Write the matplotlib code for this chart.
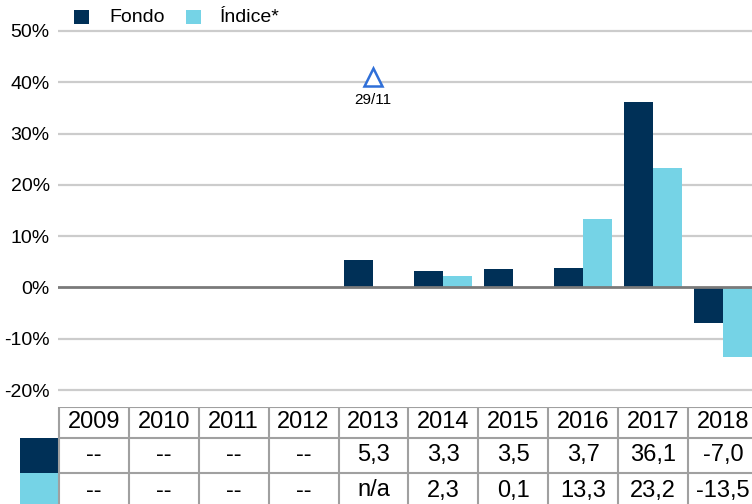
import numpy as np
import matplotlib
matplotlib.use("Agg")
import matplotlib.pyplot as plt
from matplotlib.patches import Rectangle

plt.rcParams['font.family'] = ['Liberation Sans', 'DejaVu Sans']

years = ["2009", "2010", "2011", "2012", "2013", "2014", "2015", "2016", "2017", "2018"]
fondo = [np.nan, np.nan, np.nan, np.nan, 5.3, 3.3, 3.5, 3.7, 36.1, -7.0]
indice = [np.nan, np.nan, np.nan, np.nan, np.nan, 2.3, 0.1, 13.3, 23.2, -13.5]
fondo_txt = ["--", "--", "--", "--", "5,3", "3,3", "3,5", "3,7", "36,1", "-7,0"]
indice_txt = ["--", "--", "--", "--", "n/a", "2,3", "0,1", "13,3", "23,2", "-13,5"]
yticks = [-20, -10, 0, 10, 20, 30, 40, 50]
start_idx = 4
start_val = 41
start_label = "29/11"

c_fondo = "#003057"
c_indice = "#75d3e6"

W, H = 752, 504
fig = plt.figure(figsize=(W / 100, H / 100), dpi=100)

# main chart
ppu = 5.13
y_top = 31 - ppu
y_bot = 390 + ppu
ax = fig.add_axes([58 / W, (H - y_bot) / H, 700 / W, (y_bot - y_top) / H])
x = np.arange(len(years))
bw = 0.41
ax.bar(x - bw / 2, fondo, bw, color=c_fondo, zorder=2)
ax.bar(x + bw / 2, indice, bw, color=c_indice, zorder=2)
ax.set_xlim(-0.5, len(years) - 0.5)
ax.set_ylim(-21, 51)
ax.set_yticks(yticks)
ax.set_yticklabels([f"{v}%" for v in yticks], fontsize=14)
ax.set_xticks([])
ax.tick_params(axis='y', length=0, pad=6)
for s in ax.spines.values():
    s.set_visible(False)
for v in yticks:
    if v != 0:
        ax.axhline(v, color="#cccccc", lw=1.6, zorder=1)
ax.axhline(0, color="#7a7a7a", lw=2, zorder=3)

ax.plot([start_idx], [start_val], marker='^', ms=13, mfc='white', mec="#2f6fd8", mew=1.8,
        ls='none', zorder=4)
ax.text(start_idx, start_val - 3.0, start_label, ha='center', va='top', fontsize=11)

# legend drawn in pixel units
px = fig.dpi_scale_trans.inverted()
def pix(xp, yp):
    return xp / 100, (H - yp) / 100
for lab, col, sx, tx in [("Fondo", c_fondo, 74, 109), ("Índice*", c_indice, 186, 220)]:
    fig.add_artist(Rectangle(pix(sx, 24), 0.15, 0.14, color=col, lw=0,
                             transform=fig.dpi_scale_trans))
    fig.text(*pix(tx, 17), lab, fontsize=14, va='center', ha='left',
             transform=fig.dpi_scale_trans)

# table below the chart
tx0 = -0.5 - 39 / 70
tab = fig.add_axes([20 / W, (H - 508) / H, (758 - 20) / W, 101 / H])
tab.set_xlim(tx0, len(years) - 0.5)
tab.set_ylim(101, 0)
tab.axis('off')
rows = [0, 31, 66, 101]
gc = "#a0a0a0"
lw = 1.5
tab.add_patch(Rectangle((tx0, rows[1]), -0.5 - tx0, rows[2] - rows[1], color=c_fondo, lw=0))
tab.add_patch(Rectangle((tx0, rows[2]), -0.5 - tx0, rows[3] - rows[2], color=c_indice, lw=0))
for r in rows[:3]:
    tab.plot([-0.5, len(years) - 0.5], [r, r], color=gc, lw=lw, solid_capstyle='butt')
for i in range(len(years) + 1):
    tab.plot([i - 0.5, i - 0.5], [rows[0], rows[3]], color=gc, lw=lw, solid_capstyle='butt')
for i, y in enumerate(years):
    tab.text(i, (rows[0] + rows[1]) / 2, y, ha='center', va='center', fontsize=17)
    tab.text(i, (rows[1] + rows[2]) / 2, fondo_txt[i], ha='center', va='center', fontsize=17)
    tab.text(i, (rows[2] + rows[3]) / 2, indice_txt[i], ha='center', va='center', fontsize=17)

fig.savefig("out.png", dpi=100)
